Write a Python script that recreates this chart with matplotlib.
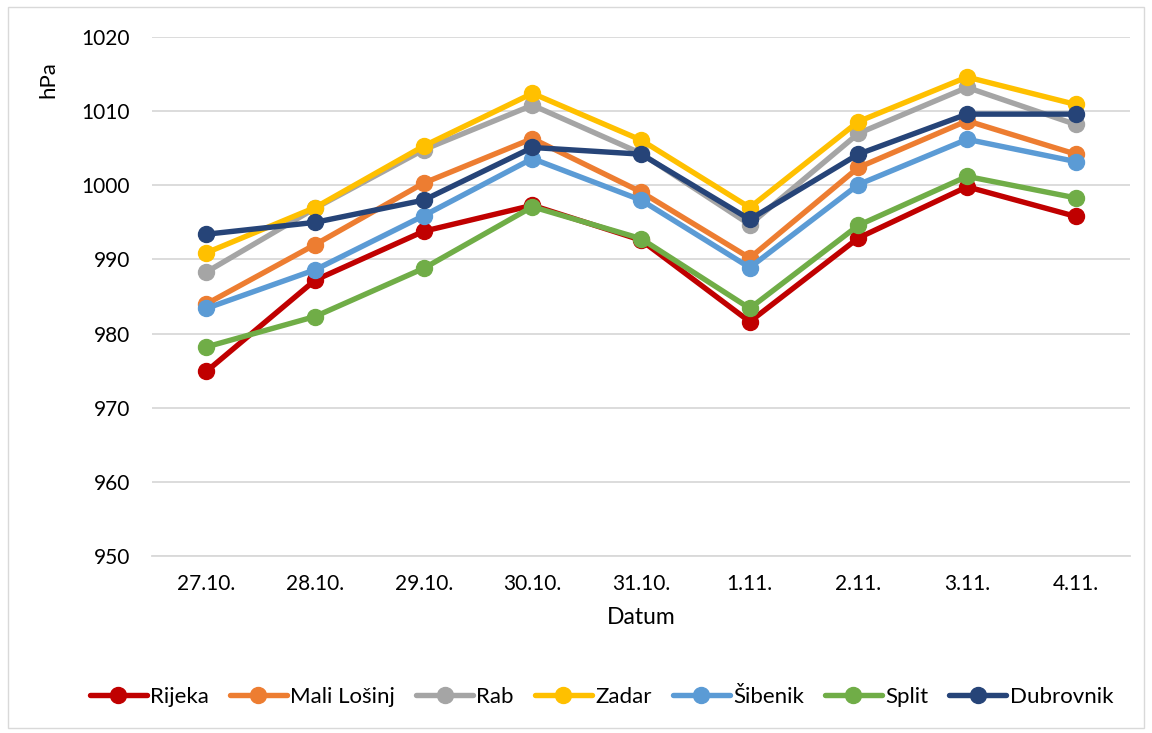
import matplotlib.pyplot as plt
from matplotlib.patches import Rectangle

plt.rcParams['font.family'] = ['Lato', 'DejaVu Sans']

# Datum (x categories)
dates = ["27.10.", "28.10.", "29.10.", "30.10.", "31.10.", "1.11.", "2.11.", "3.11.", "4.11."]

# Air pressure per station, hPa
rijeka = [974.9, 987.2, 993.8, 997.3, 992.6, 981.6, 992.9, 999.8, 995.8]
mali_losinj = [984.0, 992.0, 1000.3, 1006.3, 999.1, 990.2, 1002.4, 1008.7, 1004.2]
rab = [988.3, 996.9, 1004.8, 1010.8, 1004.3, 994.7, 1007.0, 1013.2, 1008.2]
zadar = [990.9, 997.0, 1005.3, 1012.4, 1006.1, 997.0, 1008.6, 1014.6, 1010.9]
sibenik = [983.4, 988.6, 995.9, 1003.6, 998.0, 988.9, 1000.1, 1006.2, 1003.2]
split = [978.2, 982.3, 988.8, 997.1, 992.8, 983.4, 994.6, 1001.2, 998.3]
dubrovnik = [993.4, 995.0, 998.0, 1005.1, 1004.2, 995.4, 1004.2, 1009.6, 1009.6]

series = [
    ("Rijeka", rijeka, "#C00000"),
    ("Mali Lošinj", mali_losinj, "#ED7D31"),
    ("Rab", rab, "#A5A5A5"),
    ("Zadar", zadar, "#FFC000"),
    ("Šibenik", sibenik, "#5B9BD5"),
    ("Split", split, "#70AD47"),
    ("Dubrovnik", dubrovnik, "#264478"),
]

fig = plt.figure(figsize=(11.52, 7.33), dpi=100)
ax = fig.add_axes([0.132, 0.2415, 0.849, 0.708])

x = range(len(dates))
for name, vals, color in series:
    ax.plot(x, vals, color=color, lw=3.9, marker="o", ms=11.5, label=name,
            solid_capstyle="round", zorder=3)

ax.set_xlim(-0.5, len(dates) - 0.5)
ax.set_ylim(950, 1020)
ax.set_yticks(range(950, 1021, 10))
ax.set_xticks(list(x))
ax.set_xticklabels(dates)
ax.grid(axis="y", color="#D9D9D9", lw=1.3)
ax.set_axisbelow(True)
for s in ["top", "right", "left"]:
    ax.spines[s].set_visible(False)
ax.spines["bottom"].set_color("#D9D9D9")
ax.spines["bottom"].set_linewidth(1.3)
ax.tick_params(length=0, labelsize=15, colors="#000000")
ax.tick_params(axis="x", pad=13)
ax.tick_params(axis="y", pad=16)

ax.set_xlabel("Datum", fontsize=16.5, labelpad=9)
fig.text(0.042, 0.891, "hPa", rotation=90, fontsize=16, ha="center", va="center")

ax.legend(loc="center", bbox_to_anchor=(0.522, 0.049), bbox_transform=fig.transFigure,
          ncol=7, frameon=False, fontsize=16, handlelength=2.57, handletextpad=0.14,
          columnspacing=0.95)

fig.patches.append(Rectangle((0.007, 0.007), 0.986, 0.983, transform=fig.transFigure,
                             fill=False, edgecolor="#D9D9D9", lw=1))

fig.savefig("out.png", dpi=100, facecolor="white")
